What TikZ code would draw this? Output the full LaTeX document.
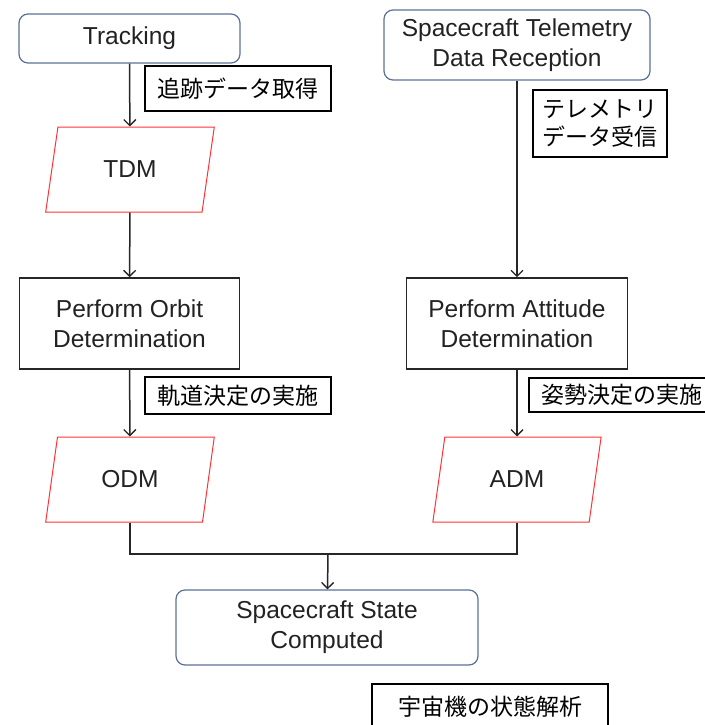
\documentclass[tikz,border=0pt]{standalone}
\usepackage{fontspec}
\setmainfont{Liberation Sans}
\newfontfamily\jpfont{Noto Sans CJK JP}
\usetikzlibrary{shapes.geometric, arrows.meta}

\newlength\px
\setlength\px{0.75pt}
\definecolor{edgeblue}{HTML}{5B7096}
\definecolor{datared}{HTML}{FF3333}
\definecolor{inkgray}{HTML}{222222}

\tikzset{
  event/.style={draw=edgeblue, line width=1.2\px, rounded corners=9\px, inner sep=0pt,
    align=center, text=inkgray, font=\fontsize{18.4}{22.5}\selectfont},
  process/.style={draw=black!85, line width=1.6\px, inner sep=0pt,
    align=center, text=inkgray, font=\fontsize{18.4}{22.5}\selectfont},
  datafile/.style={trapezium, trapezium left angle=75, trapezium right angle=105,
    trapezium stretches=true, draw=datared, line width=1\px, inner sep=0pt,
    minimum width=169\px, minimum height=85\px,
    text=inkgray, font=\fontsize{18.4}{22.5}\selectfont},
  note/.style={draw, line width=1.3\px, fill=white, inner sep=0pt, align=center,
    font=\jpfont\fontsize{17.25}{21}\selectfont},
  link/.style={draw=black!85, line width=1.5\px},
  flow/.style={link, -{Straight Barb[length=4.5pt,width=9pt,line width=1pt]}}
}

\begin{document}
\begin{tikzpicture}[x=1\px, y=-1\px]
    \useasboundingbox (0,0) rectangle (705,725);

    % left column: orbit
    \node[event, minimum width=221\px, minimum height=49\px] (track) at (129.5,38.5) {Tracking};
    \node[datafile] (tdm) at (130,169.5) {TDM};
    \node[process, minimum width=220\px, minimum height=91\px] (orbit) at (129.5,323.5)
        {Perform Orbit\\Determination};
    \node[datafile] (odm) at (130,479.5) {ODM};

    % right column: attitude
    \node[event, minimum width=266\px, minimum height=70\px] (telem) at (517,45)
        {Spacecraft Telemetry\\Data Reception};
    \node[process, minimum width=221\px, minimum height=91\px] (attit) at (517,323.5)
        {Perform Attitude\\Determination};
    \node[datafile] (adm) at (517,479.5) {ADM};

    % result
    \coordinate (join) at (328,554);
    \node[event, minimum width=302\px, minimum height=75\px] (state) at (327,627.5)
        {Spacecraft State\\Computed};

    % connectors
    \draw[flow] (track) -- (tdm);
    \draw[flow] (tdm) -- (orbit);
    \draw[flow] (orbit) -- (odm);
    \draw[flow] (telem) -- (attit);
    \draw[flow] (attit) -- (adm);
    \draw[link] (odm.center |- odm.south) |- (join) -| (adm.center |- adm.south);
    \draw[flow] (join) -- (state);

    % japanese notes
    \node[note, minimum width=186\px, minimum height=45\px] (ntrack) at (238,88.5) {追跡データ取得};
    \node[note, minimum width=134\px, minimum height=67\px] (ntelem) at (600,123.5)
        {テレメトリ\\データ受信};
    \node[note, minimum width=186\px, minimum height=37\px] (norbit) at (238,395.5) {軌道決定の実施};
    \node[note, minimum width=186\px, minimum height=34\px] (nattit) at (622,395) {姿勢決定の実施};
    \node[note, minimum width=236\px, minimum height=45\px] (nstate) at (490,706.5) {宇宙機の状態解析};
\end{tikzpicture}
\end{document}
